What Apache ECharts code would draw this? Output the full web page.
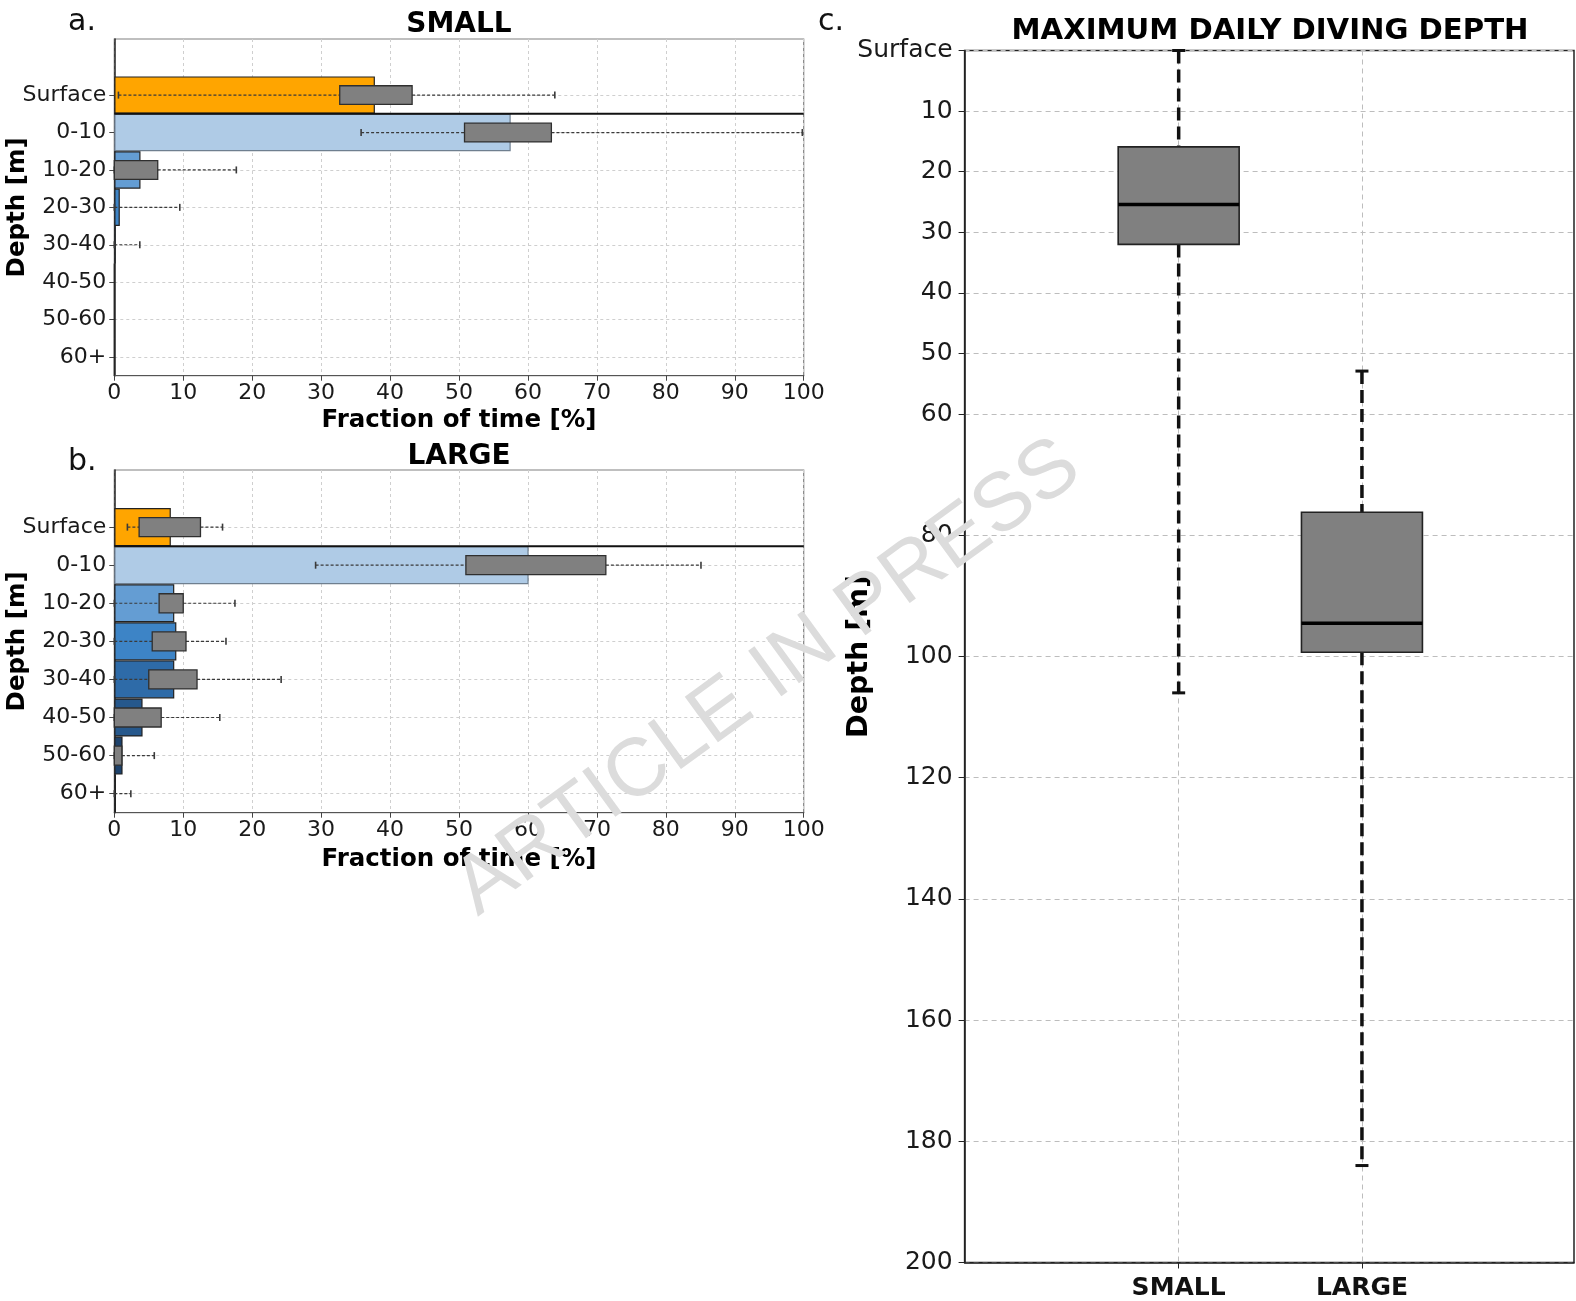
<!DOCTYPE html>
<html><head><meta charset="utf-8">
<script src="https://cdn.jsdelivr.net/npm/echarts@6/dist/echarts.min.js"></script>
<style>html,body{margin:0;padding:0;background:#fff}#c{width:1576px;height:1301px}</style>
</head><body><div id="c"></div>
<script>
// ---------- data ----------
const depthBins = ['Surface','0-10','10-20','20-30','30-40','40-50','50-60','60+'];
const binColors = ['#FFA500','#AFCBE6','#649DD3','#3D84C6','#2E6BA8','#26588C','#1D426C','#13304F'];

// panel a (SMALL): fraction of time per depth bin [%]
const smallFraction = [37.8, 57.5, 3.8, 0.8, 0.2, 0, 0, 0];
// boxes: [whiskerLow, q1, q3, whiskerHigh]
const smallBoxes = [
  [0.6, 32.7, 43.2, 63.9],
  [35.8, 50.8, 63.4, 99.8],
  [0, 0, 6.3, 17.7],
  [0, 0, 0, 9.5],
  [0, 0, 0, 3.7],
  null, null, null
];

// panel b (LARGE)
const largeFraction = [8.2, 60.1, 8.7, 9.0, 8.7, 4.1, 1.2, 0.25];
const largeBoxes = [
  [1.9, 3.6, 12.5, 15.7],
  [29.2, 51.0, 71.3, 85.1],
  [0, 6.5, 10.0, 17.5],
  [0, 5.5, 10.4, 16.2],
  [0, 5.0, 12.0, 24.2],
  [0, 0, 6.8, 15.3],
  [0, 0, 1.1, 5.8],
  [0, 0, 0, 2.4]
];

// panel c: maximum daily diving depth [whiskerLow, q1, median, q3, whiskerHigh]
const sizeGroups = ['SMALL','LARGE'];
const maxDepthBoxes = [
  [0, 15.9, 25.4, 32.0, 106.0],
  [52.9, 76.2, 94.5, 99.3, 184.0]
];
const depthTicks = [0,10,20,30,40,50,60,80,100,120,140,160,180,200];
const sizePositions = [1, 2];

// ---------- chart ----------
const FONT = 'DejaVu Sans';
const chart = echarts.init(document.getElementById('c'));

const yCats = [''].concat(depthBins);

function barData(vals){
  return ['-'].concat(vals.map((v,i)=>({value:v, itemStyle:{color:binColors[i], borderColor: i===1 ? '#6f7f8f' : '#222'}})));
}
function boxData(boxes){
  const out = [];
  boxes.forEach((b,i)=>{ if(b) out.push([i+1].concat(b)); });
  return out;
}
function renderHBox(params, api){
  const yi = api.value(0);
  const lo = api.value(1), q1 = api.value(2), q3 = api.value(3), hi = api.value(4);
  const band = api.size([0, 1])[1];
  const pLo = api.coord([lo, yi]), pQ1 = api.coord([q1, yi]), pQ3 = api.coord([q3, yi]), pHi = api.coord([hi, yi]);
  const y = pLo[1], h = band * 0.5;
  const ws = {stroke:'#3a3a3a', lineWidth:1.2, lineDash:[3,2]};
  const cs = {stroke:'#3a3a3a', lineWidth:1.6};
  const ch = [
    {type:'line', shape:{x1:pLo[0], y1:y, x2:pQ1[0], y2:y}, style:ws},
    {type:'line', shape:{x1:pQ3[0], y1:y, x2:pHi[0], y2:y}, style:ws},
    {type:'line', shape:{x1:pLo[0], y1:y-3.5, x2:pLo[0], y2:y+3.5}, style:cs},
    {type:'line', shape:{x1:pHi[0], y1:y-3.5, x2:pHi[0], y2:y+3.5}, style:cs}
  ];
  if (q3 > q1) ch.push({type:'rect', shape:{x:pQ1[0], y:y-h/2, width:pQ3[0]-pQ1[0], height:h}, style:{fill:'#808080', stroke:'#2f2f2f', lineWidth:1.3}});
  return {type:'group', children:ch};
}
function renderSeaLine(params, api){
  const yi = api.value(0);
  const band = api.size([0,1])[1];
  const p0 = api.coord([api.value(1), yi]), p1 = api.coord([api.value(2), yi]);
  const y = p0[1] + band/2;
  return {type:'line', shape:{x1:p0[0], y1:y, x2:p1[0], y2:y}, style:{stroke:'#111', lineWidth:2}};
}
function renderVBox(params, api){
  const pos = api.value(0);
  const lo = api.value(1), q1 = api.value(2), med = api.value(3), q3 = api.value(4), hi = api.value(5);
  const cx = api.coord([pos, 0])[0];
  const hw = api.size([0.66, 0])[0] / 2;
  const yLo = api.coord([pos, lo])[1], yQ1 = api.coord([pos, q1])[1], yMed = api.coord([pos, med])[1],
        yQ3 = api.coord([pos, q3])[1], yHi = api.coord([pos, hi])[1];
  const ws = {stroke:'#111', lineWidth:3.5, lineDash:[13,6]};
  const cs = {stroke:'#111', lineWidth:3};
  return {type:'group', children:[
    {type:'line', shape:{x1:cx, y1:yLo, x2:cx, y2:yQ1}, style:ws},
    {type:'line', shape:{x1:cx, y1:yQ3, x2:cx, y2:yHi}, style:ws},
    {type:'line', shape:{x1:cx-6.5, y1:yLo, x2:cx+6.5, y2:yLo}, style:cs},
    {type:'line', shape:{x1:cx-6.5, y1:yHi, x2:cx+6.5, y2:yHi}, style:cs},
    {type:'rect', shape:{x:cx-hw, y:yQ1, width:2*hw, height:yQ3-yQ1}, style:{fill:'#808080', stroke:'#222', lineWidth:1.6}},
    {type:'line', shape:{x1:cx-hw, y1:yMed, x2:cx+hw, y2:yMed}, style:{stroke:'#000', lineWidth:3.5}}
  ]};
}

const gridLineAB = {show:true, lineStyle:{color:'#cfcfcf', width:1, type:[3,3]}};
function xAxisAB(gi, gap){
  return {gridIndex:gi, type:'value', min:0, max:100, interval:10,
    name:'Fraction of time [%]', nameLocation:'middle', nameGap:gap, nameMoveOverlap:false,
    nameTextStyle:{fontFamily:FONT, fontWeight:'bold', fontSize:24.5, color:'#000'},
    axisLine:{show:true, onZero:false, lineStyle:{color:'#555', width:1.2}},
    axisTick:{show:true, length:5, lineStyle:{color:'#444'}},
    axisLabel:{fontFamily:FONT, fontSize:22, color:'#1a1a1a', margin:7},
    splitLine:gridLineAB};
}
function yAxisAB(gi){
  const skip = (i, v) => v !== '';
  return {gridIndex:gi, type:'category', inverse:true, data:yCats, boundaryGap:true,
    name:'Depth [m]', nameLocation:'middle', nameGap:84, nameRotate:90, nameMoveOverlap:false,
    nameTextStyle:{fontFamily:FONT, fontWeight:'bold', fontSize:24.5, color:'#000'},
    axisLine:{show:true, onZero:false, lineStyle:{color:'#222', width:1.5}},
    axisTick:{show:true, alignWithLabel:true, interval:skip, length:5, lineStyle:{color:'#444'}},
    axisLabel:{fontFamily:FONT, fontSize:22, color:'#1a1a1a', margin:8, interval:0, padding:[4,0,0,0]},
    splitLine:{show:true, alignWithLabel:true, interval:skip, lineStyle:{color:'#cfcfcf', width:1, type:[3,3]}}};
}

const option = {
  animation:false,
  backgroundColor:'#fff',
  title:[
    {text:'SMALL', left:459, top:11, textAlign:'center', padding:0, textStyle:{fontFamily:FONT, fontWeight:'bold', fontSize:28, lineHeight:28, color:'#000'}},
    {text:'LARGE', left:459, top:443, textAlign:'center', padding:0, textStyle:{fontFamily:FONT, fontWeight:'bold', fontSize:28, lineHeight:28, color:'#000'}},
    {text:'MAXIMUM DAILY DIVING DEPTH', left:1270, top:17, textAlign:'center', padding:0, textStyle:{fontFamily:FONT, fontWeight:'bold', fontSize:29.2, lineHeight:28, color:'#000'}}
  ],
  grid:[
    {left:114.3, top:39, width:689.4, height:336.7, show:true, borderColor:'#808080', borderWidth:1.2, outerBoundsMode:'none', containLabel:false},
    {left:114.3, top:470, width:689.4, height:342.7, show:true, borderColor:'#808080', borderWidth:1.2, outerBoundsMode:'none', containLabel:false},
    {left:964.6, top:50.5, width:609.4, height:1212, show:true, borderColor:'#222', borderWidth:1.5, outerBoundsMode:'none', containLabel:false}
  ],
  xAxis:[
    xAxisAB(0, 32), xAxisAB(1, 34),
    {gridIndex:2, type:'value', min:-0.168, max:3.157,
      axisLine:{show:true, onZero:false, lineStyle:{color:'#222', width:1.5}},
      axisLabel:{customValues:sizePositions, formatter:v=>sizeGroups[Math.round(v)-1], fontFamily:FONT, fontWeight:'bold', fontSize:25, color:'#111', margin:13},
      axisTick:{show:true, customValues:sizePositions, length:6, lineStyle:{color:'#222'}},
      splitLine:{show:true, lineStyle:{color:'#bdbdbd', width:1, type:[5,4]}}}
  ],
  yAxis:[
    yAxisAB(0), yAxisAB(1),
    {gridIndex:2, type:'value', inverse:true, min:0, max:200,
      name:'Depth [m]', nameLocation:'middle', nameGap:91, nameRotate:90, nameMoveOverlap:false,
      nameTextStyle:{fontFamily:FONT, fontWeight:'bold', fontSize:28.5, color:'#000'},
      axisLine:{show:true, onZero:false, lineStyle:{color:'#222', width:1.5}},
      axisLabel:{customValues:depthTicks, formatter:v=>v===0?'Surface':String(v), fontFamily:FONT, fontSize:25, color:'#1a1a1a', margin:12, padding:[3,0,0,0]},
      axisTick:{show:true, customValues:depthTicks, length:6, lineStyle:{color:'#222'}},
      splitLine:{show:true, lineStyle:{color:'#bdbdbd', width:1, type:[5,4]}}}
  ],
  series:[
    {type:'bar', xAxisIndex:0, yAxisIndex:0, barWidth:'100%', data:barData(smallFraction), itemStyle:{borderWidth:1.2}, z:2},
    {type:'custom', xAxisIndex:0, yAxisIndex:0, renderItem:renderHBox, encode:{y:0, x:[1,2,3,4]}, data:boxData(smallBoxes), z:3},
    {type:'custom', xAxisIndex:0, yAxisIndex:0, renderItem:renderSeaLine, encode:{y:0, x:[1,2]}, data:[[1,0,100]], z:4},
    {type:'bar', xAxisIndex:1, yAxisIndex:1, barWidth:'100%', data:barData(largeFraction), itemStyle:{borderWidth:1.2}, z:2},
    {type:'custom', xAxisIndex:1, yAxisIndex:1, renderItem:renderHBox, encode:{y:0, x:[1,2,3,4]}, data:boxData(largeBoxes), z:3},
    {type:'custom', xAxisIndex:1, yAxisIndex:1, renderItem:renderSeaLine, encode:{y:0, x:[1,2]}, data:[[1,0,100]], z:4},
    {type:'custom', xAxisIndex:2, yAxisIndex:2, renderItem:renderVBox, encode:{x:0, y:[1,2,3,4,5]},
      data:maxDepthBoxes.map((b,i)=>[sizePositions[i]].concat(b)), z:3}
  ],
  graphic:[
    {type:'text', x:68, y:22, style:{text:'a.', font:'30px "DejaVu Sans"', fill:'#111', verticalAlign:'middle'}},
    {type:'text', x:68, y:462, style:{text:'b.', font:'30px "DejaVu Sans"', fill:'#111', verticalAlign:'middle'}},
    {type:'text', x:818, y:22, style:{text:'c.', font:'30px "DejaVu Sans"', fill:'#111', verticalAlign:'middle'}},
    {type:'text', x:768, y:678, rotation:36*Math.PI/180, z:100,
      style:{text:'ARTICLE IN PRESS', font:'82px "Liberation Sans"', fill:'#dcdcdc', align:'center', verticalAlign:'middle'}}
  ]
};
chart.setOption(option);
</script></body></html>
